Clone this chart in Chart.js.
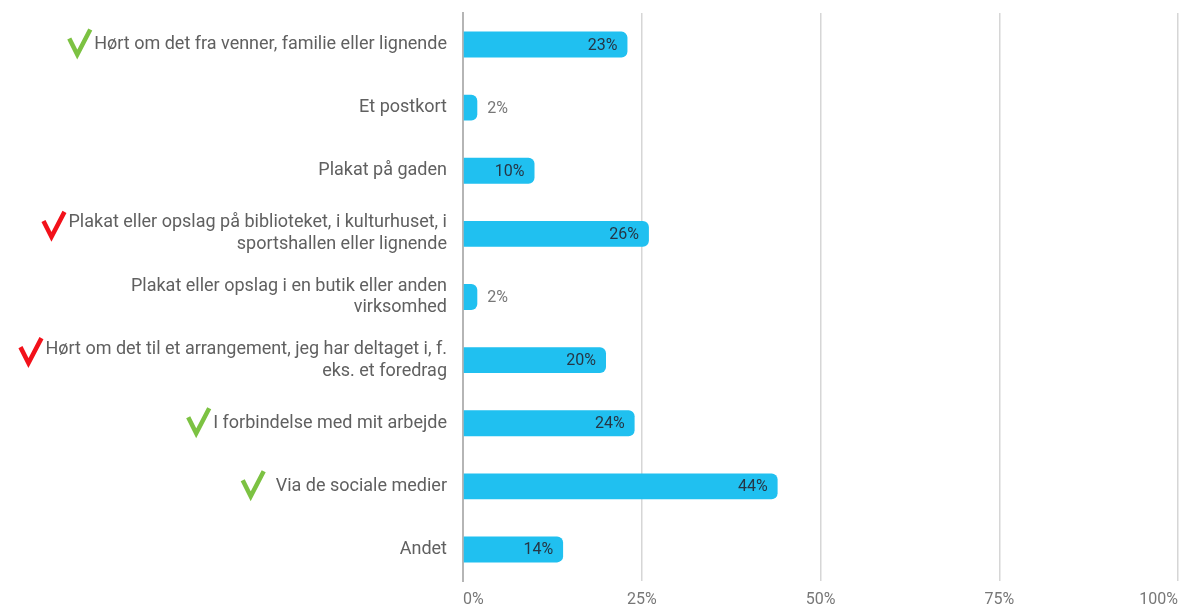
<!DOCTYPE html>
<html>
<head>
<meta charset="utf-8">
<script src="https://cdn.jsdelivr.net/npm/chart.js@4/dist/chart.umd.min.js"></script>
<style>
  html, body { margin: 0; padding: 0; background: #fff; }
  #wrap { width: 1184px; height: 608px; }
</style>
</head>
<body>
<div id="wrap"><canvas id="myChart" width="1184" height="608"></canvas></div>
<script>
// data
var categories = [
    'Hørt om det fra venner, familie eller lignende',
    'Et postkort',
    'Plakat på gaden',
    ['Plakat eller opslag på biblioteket, i kulturhuset, i', 'sportshallen eller lignende'],
    ['Plakat eller opslag i en butik eller anden', 'virksomhed'],
    ['Hørt om det til et arrangement, jeg har deltaget i, f.', 'eks. et foredrag'],
    'I forbindelse med mit arbejde',
    'Via de sociale medier',
    'Andet'
];
var shares = [23, 2, 10, 26, 2, 20, 24, 44, 14];
var marks = ['green', null, null, 'red', null, 'red', 'green', 'green', null];
var xTicks = [0, 25, 50, 75, 100];

var markColors = { green: '#7cc242', red: '#f2111a' };
var markShift = { green: 0, red: 4 };
var labelFont = { family: 'Roboto', size: 18, lineHeight: 1.22 };

// value labels at the end of each bar
var barLabels = {
    id: 'barLabels',
    afterDatasetsDraw: function (chart) {
        var ctx = chart.ctx;
        var meta = chart.getDatasetMeta(0);
        ctx.save();
        ctx.font = '16px Roboto';
        ctx.textBaseline = 'middle';
        meta.data.forEach(function (bar, i) {
            var v = shares[i];
            if (v >= 5) {
                ctx.textAlign = 'right';
                ctx.fillStyle = '#263645';
                ctx.fillText(v + '%', bar.x - 10, bar.y + 1);
            } else {
                ctx.textAlign = 'left';
                ctx.fillStyle = '#777';
                ctx.fillText(v + '%', bar.x + 10, bar.y + 1);
            }
        });
        ctx.restore();
    }
};

// check marks in front of some category labels
var checkMarks = {
    id: 'checkMarks',
    afterDraw: function (chart) {
        var ctx = chart.ctx;
        var yScale = chart.scales.y;
        var right = chart.chartArea.left - 16;
        var lineH = labelFont.size * labelFont.lineHeight;
        ctx.save();
        ctx.font = labelFont.size + 'px ' + labelFont.family;
        marks.forEach(function (m, i) {
            if (!m) return;
            var lab = categories[i];
            var lines = Array.isArray(lab) ? lab : [lab];
            var w = ctx.measureText(lines[0]).width;
            var cy = yScale.getPixelForTick(i) - (lines.length - 1) * lineH / 2 + markShift[m];
            var gap = i === 7 ? 12 : 4;   // the social media one sits a bit further off
            var x1 = right - w - gap;     // right end of the check
            var x0 = x1 - 21;
            ctx.beginPath();
            ctx.moveTo(x0, cy - 6);
            ctx.lineTo(x0 + 8, cy + 10);
            ctx.lineTo(x1, cy - 15);
            ctx.strokeStyle = markColors[m];
            ctx.lineWidth = 4.5;
            ctx.lineJoin = 'miter';
            ctx.stroke();
        });
        ctx.restore();
    }
};

var ctx = document.getElementById('myChart').getContext('2d');
var myChart = new Chart(ctx, {
    type: 'bar',
    data: {
        labels: categories,
        datasets: [{
            data: shares,
            backgroundColor: '#20c0f0',
            borderRadius: 6,
            barPercentage: 0.82,
            categoryPercentage: 0.5
        }]
    },
    options: {
        indexAxis: 'y',
        responsive: false,
        animation: false,
        layout: { padding: { top: 13, right: 6, bottom: 0, left: 0 } },
        plugins: {
            legend: { display: false },
            tooltip: { enabled: false }
        },
        scales: {
            x: {
                min: 0,
                max: 100,
                afterBuildTicks: function (s) {
                    s.ticks = xTicks.map(function (v) { return { value: v }; });
                },
                afterFit: function (s) {
                    s.height = 27;
                    s.paddingLeft = 0;
                    s.paddingRight = 0;
                },
                ticks: {
                    align: 'inner',
                    color: '#777',
                    font: { family: 'Roboto', size: 16 },
                    padding: 9,
                    callback: function (v) { return v + '%'; }
                },
                grid: { color: '#d6d6d6', lineWidth: 1.5, drawTicks: false },
                border: { display: false }
            },
            y: {
                afterFit: function (s) {
                    s.width = 463;
                    s.paddingTop = 0;
                    s.paddingBottom = 0;
                },
                ticks: {
                    color: '#606060',
                    font: labelFont,
                    padding: 8
                },
                grid: { display: false },
                border: { color: '#b5b5b5', width: 2 }
            }
        }
    },
    plugins: [barLabels, checkMarks]
});
</script>
</body>
</html>
